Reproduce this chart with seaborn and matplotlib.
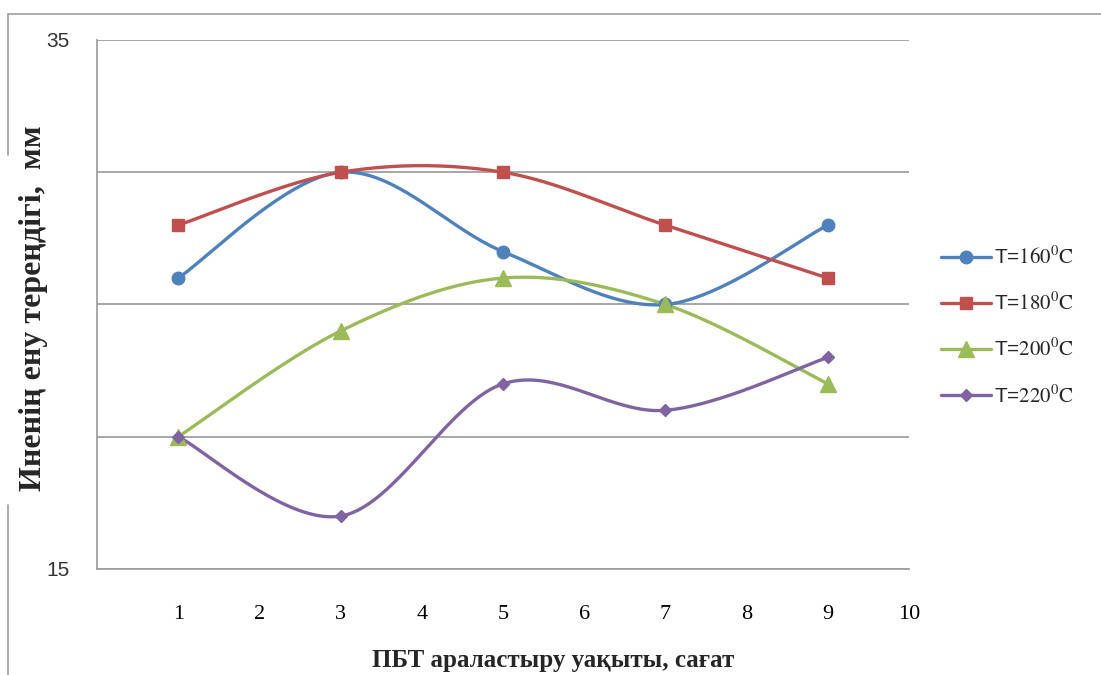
import numpy as np
import pandas as pd
import matplotlib
matplotlib.use("Agg")
import matplotlib.pyplot as plt
import seaborn as sns
from matplotlib.lines import Line2D

# ---- data ----
hours = [1, 3, 5, 7, 9]
t160 = [26, 30, 27, 25, 28]
t180 = [28, 30, 30, 28, 26]
t200 = [20, 24, 26, 25, 22]
t220 = [20, 17, 22, 21, 23]
series_names = ["160", "180", "200", "220"]
x_ticks = [0, 1, 2, 3, 4, 5, 6, 7, 8, 9, 10]
x_tick_labels = ["", "1", "2", "3", "4", "5", "6", "7", "8", "9", "10"]
y_ticks = [15, 20, 25, 30, 35]
y_tick_labels = ["15", "", "", "", "35"]
x_label = "ПБТ араластыру уақыты, сағат"
y_label = "Иненің ену тереңдігі,  мм"

colors = ["#4F81BD", "#C0504D", "#9BBB59", "#8064A2"]
markers = ["o", "s", "^", "D"]
msizes = [9, 8, 11, 6]

sns.set_style("white")
plt.rcParams["font.family"] = ["Liberation Sans", "DejaVu Sans"]
plt.rcParams["mathtext.fontset"] = "stix"


def smooth(xs, ys, n=40):
    """Excel-like smoothed line (cubic Bezier, Catmull-Rom control points)."""
    P = np.column_stack([xs, ys]).astype(float)
    m = len(P)
    out = []
    for i in range(m - 1):
        p0 = P[max(i - 1, 0)]
        p1 = P[i]
        p2 = P[i + 1]
        p3 = P[min(i + 2, m - 1)]
        b1 = p1 + (p2 - p0) / 6.0
        b2 = p2 - (p3 - p1) / 6.0
        t = np.linspace(0, 1, n)[:, None]
        seg = ((1 - t) ** 3) * p1 + 3 * ((1 - t) ** 2) * t * b1 + 3 * (1 - t) * t ** 2 * b2 + t ** 3 * p2
        if i > 0:
            seg = seg[1:]
        out.append(seg)
    out = np.vstack(out)
    return out[:, 0], out[:, 1]


fig = plt.figure(figsize=(11.01, 6.75), dpi=100)
ax = fig.add_axes([97 / 1101, 1 - 569 / 675, (909 - 97) / 1101, (569 - 40) / 675])

all_series = [t160, t180, t200, t220]
handles = []
for name, vals, c, mk, ms in zip(series_names, all_series, colors, markers, msizes):
    sx, sy = smooth(hours, vals)
    dfl = pd.DataFrame({"x": sx, "y": sy})
    sns.lineplot(data=dfl, x="x", y="y", ax=ax, color=c, linewidth=2.4,
                 sort=False, estimator=None, legend=False, zorder=3)
    dfp = pd.DataFrame({"x": hours, "y": vals})
    ax.plot(dfp["x"], dfp["y"], linestyle="none", marker=mk, markersize=ms,
            color=c, markeredgecolor=c, zorder=4, clip_on=False)
    handles.append(Line2D([], [], color=c, linewidth=2.4, marker=mk,
                          markersize=ms, markeredgecolor=c,
                          label="T=$\\mathrm{" + name + "^{0}C}$"))

ax.set_xlim(0, 10)
ax.set_ylim(15, 35)
ax.set_xticks(x_ticks)
ax.set_xticklabels(x_tick_labels, fontsize=16, family="Liberation Serif", color="black")
ax.set_yticks(y_ticks)
ax.set_yticklabels(y_tick_labels, fontsize=15, color="#333333")
ax.tick_params(axis="x", length=6, width=1.3, color="#a0a0a0", pad=20, direction="out")
ax.tick_params(axis="y", length=8, width=1.3, color="#a0a0a0", pad=12, direction="out")
ax.yaxis.grid(True, color="#a0a0a0", linewidth=1.3)
ax.xaxis.grid(False)
for s in ["top", "right"]:
    ax.spines[s].set_visible(False)
for s in ["left", "bottom"]:
    ax.spines[s].set_color("#a0a0a0")
    ax.spines[s].set_linewidth(1.3)
ax.set_xlabel("")
ax.set_ylabel("")

# axis titles
fig.text(553 / 1101, 1 - 660 / 675, x_label, ha="center", va="center",
         fontsize=18, fontweight="bold", family="Liberation Serif")
fig.text(34 / 1101, 1 - 308 / 675, y_label, ha="center", va="center",
         rotation=90, fontsize=23, fontweight="bold", family="Liberation Serif")

# chart-area frame fragments (partly hidden behind the axis title)
frame_kw = dict(color="#a0a0a0", linewidth=1.2, transform=fig.transFigure)
fig.add_artist(Line2D([8 / 1101, 1.0], [1 - 14 / 675, 1 - 14 / 675], **frame_kw))
fig.add_artist(Line2D([8 / 1101, 8 / 1101], [1 - 14 / 675, 1 - 155 / 675], **frame_kw))
fig.add_artist(Line2D([8 / 1101, 8 / 1101], [1 - 505 / 675, 0.0], **frame_kw))

leg = fig.legend(handles=handles, loc="upper left",
                 bbox_to_anchor=(922 / 1101, 1 - 227 / 675),
                 frameon=False, fontsize=15, handlelength=2.4,
                 handletextpad=0.15, labelspacing=1.15)

fig.savefig("out.png", dpi=100)
